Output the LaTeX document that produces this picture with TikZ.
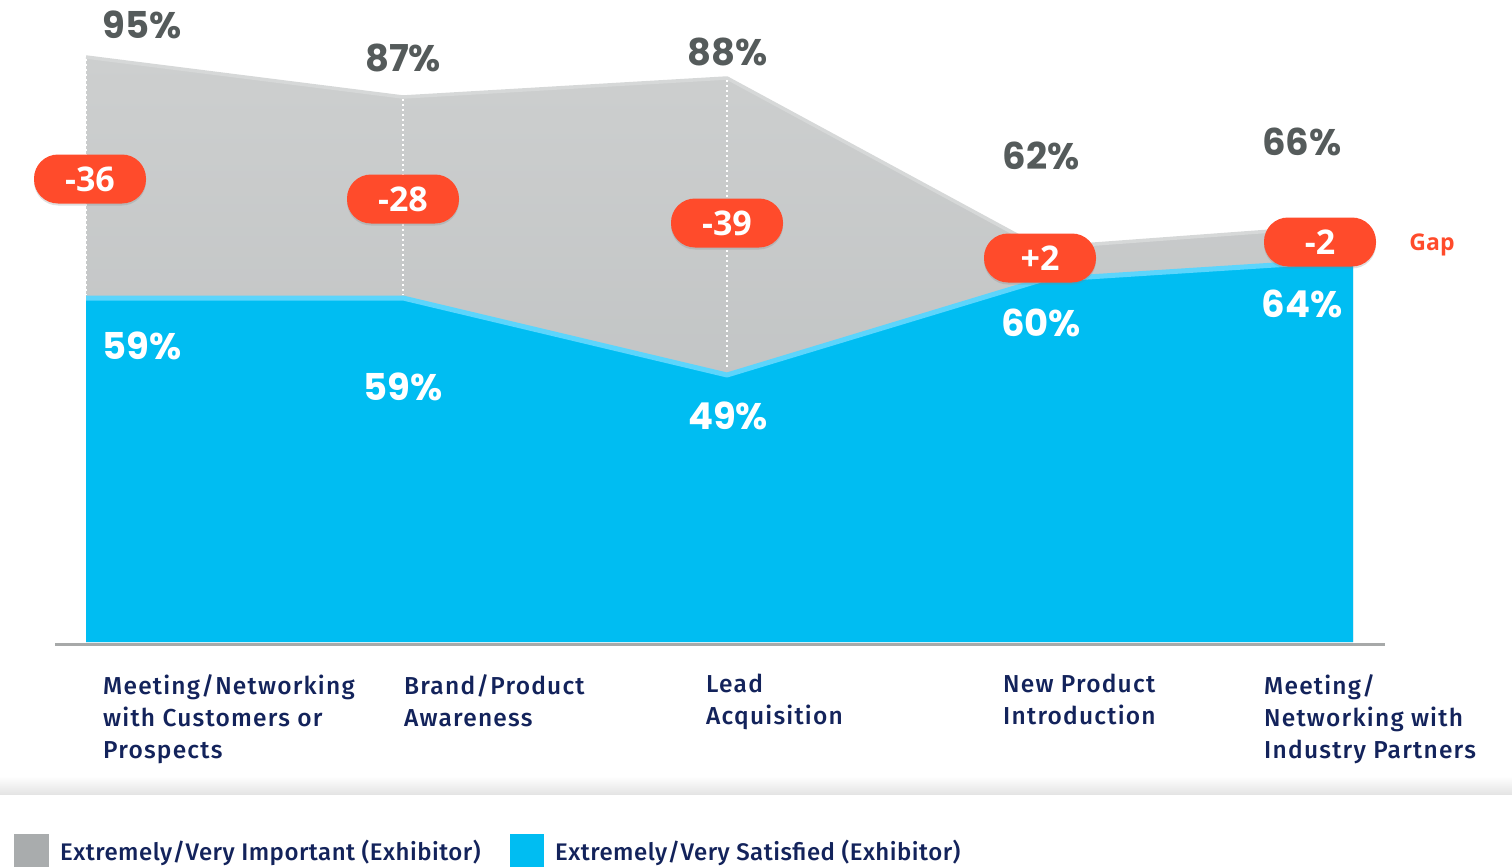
\documentclass[tikz,border=0pt]{standalone}
\usepackage{fontspec}
\setmainfont{Poppins}
\newfontfamily\catfont{Fira Sans Medium}[LetterSpace=5]
\newfontfamily\legfont{Fira Sans Medium}[LetterSpace=2]
\newfontfamily\badgefont{Open Sans}
\usetikzlibrary{shadows}

\tikzset{
  gapbadge/.style={fill=badgered, rounded corners=24pt, minimum width=112pt, minimum height=49pt,
    text=white, font=\badgefont\fontsize{34}{34}\selectfont\bfseries, inner sep=0pt,
    drop shadow={opacity=0.25, shadow xshift=0pt, shadow yshift=-2pt}},
  pcttop/.style={text=numgray, font=\fontsize{37}{37}\selectfont\bfseries, inner sep=0pt},
  pctlow/.style={text=white, font=\fontsize{37}{37}\selectfont\bfseries, inner sep=0pt},
  catlabel/.style={anchor=north west, align=left, text=navy, inner sep=0pt,
    font=\catfont\fontsize{24.5}{32}\selectfont},
  legtext/.style={anchor=west, text=navy, inner sep=0pt, font=\legfont\fontsize{24}{28}\selectfont},
  guide/.style={white, line width=1.6pt, dash pattern=on 2pt off 3pt}
}

\begin{document}
\begin{tikzpicture}[x=1pt, y=-1pt]
\useasboundingbox (0,0) rectangle (1512,867);
\definecolor{blu}{HTML}{00BDF2}
\definecolor{bluedge}{HTML}{5CD5FC}
\definecolor{grtop}{HTML}{CDCFCF}
\definecolor{grbot}{HTML}{BABDBE}
\definecolor{gredge}{HTML}{D6D8D8}
\definecolor{badgered}{HTML}{FF4B2B}
\definecolor{numgray}{HTML}{555B5B}
\definecolor{navy}{HTML}{13235B}
\definecolor{axisgray}{HTML}{A7A9A9}
\definecolor{leggray}{HTML}{A9ACAD}
\definecolor{sepgray}{HTML}{E4E4E4}

% important (grey) area
\shade[top color=grtop, bottom color=grbot] (86,642) -- (86,57) -- (403,97) -- (727,78) -- (1041,248) -- (1353,225) -- (1353,642) -- cycle;
\draw[gredge, line width=3.5pt, line join=round] (86,57) -- (403,97) -- (727,78) -- (1041,248) -- (1353,225);

% satisfied (blue) area
\fill[blu] (86,642) -- (86,298) -- (403,298) -- (727,375) -- (1041,280) -- (1353,260) -- (1353,642) -- cycle;
\draw[bluedge, line width=5pt, line join=round] (86,298) -- (403,298) -- (727,375) -- (1041,280) -- (1353,260);

% dotted guides
\draw[guide] (86,59) -- (86,295);
\draw[guide] (403,99) -- (403,295);
\draw[guide] (727,80) -- (727,369);

% axis
\draw[axisgray, line width=3pt] (55,644) -- (1385,644);

% top values
\node[pcttop] (imp1) at (142,25) {95\%};
\node[pcttop] (imp2) at (403,58) {87\%};
\node[pcttop] (imp3) at (728,52) {88\%};
\node[pcttop] (imp4) at (1041,156) {62\%};
\node[pcttop] (imp5) at (1302,142) {66\%};

% low values
\node[pctlow] (sat1) at (142,346) {59\%};
\node[pctlow] (sat2) at (403,387) {59\%};
\node[pctlow] (sat3) at (728,416) {49\%};
\node[pctlow] (sat4) at (1041,323) {60\%};
\node[pctlow] (sat5) at (1302,304) {64\%};

% gaps
\node[gapbadge] (gap1) at (90,179) {-36};
\node[gapbadge] (gap2) at (403,199) {-28};
\node[gapbadge] (gap3) at (727,223) {-39};
\node[gapbadge] (gap4) at (1040,258) {+2};
\node[gapbadge] (gap5) at (1320,242) {-2};
\node[text=badgered, font=\badgefont\fontsize{23}{23}\selectfont\bfseries, inner sep=0pt] (gaplabel) at (1432,245) {Gap};

% categories
\node[catlabel] (cat1) at (103,674) {Meeting/Networking\\with Customers or\\Prospects};
\node[catlabel] (cat2) at (404,674) {Brand/Product\\Awareness};
\node[catlabel] (cat3) at (706,674) {Lead\\Acquisition};
\node[catlabel] (cat4) at (1003,674) {New Product\\Introduction};
\node[catlabel] (cat5) at (1264,674) {Meeting/\\Networking with\\Industry Partners};

% legend
\shade[top color=white, bottom color=sepgray] (0,776) rectangle (1512,794);
\fill[leggray] (14,834) rectangle (49,867);
\node[legtext] (legimp) at (60,853) {Extremely/Very Important (Exhibitor)};
\fill[blu] (510,834) rectangle (544,867);
\node[legtext] (legsat) at (555,853) {Extremely/Very Satisfied (Exhibitor)};
\end{tikzpicture}
\end{document}
